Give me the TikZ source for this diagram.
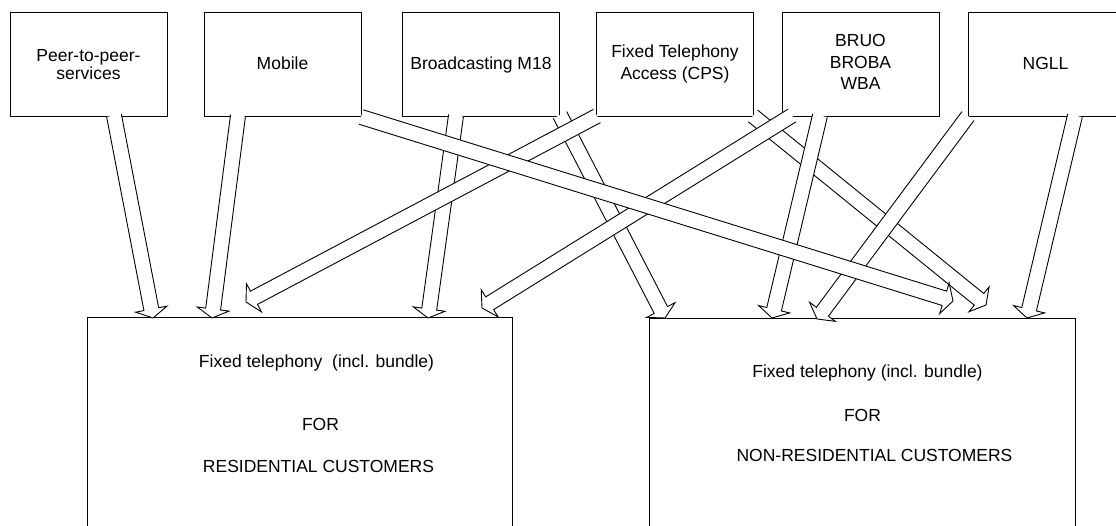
\documentclass[tikz,border=0pt]{standalone}
\usepackage{fontspec}
\setmainfont{Liberation Sans}
\usetikzlibrary{calc}
\tikzset{
  topbox/.style={draw=black, line width=0.9pt, fill=white, minimum width=157pt, minimum height=104pt, inner sep=0pt, outer sep=0pt},
  lowbox/.style={draw=black, line width=0.9pt, fill=white, inner sep=0pt, outer sep=0pt},
  lbl/.style={font=\fontsize{17.5}{21}\selectfont, inner sep=0pt, anchor=base},
  barr/.style={draw=black, fill=white, line width=0.9pt, line join=miter},
}
\newcommand\blockarr[2]{%
  \coordinate (hb) at ($(#2)!9pt!(#1)$);
  \filldraw[barr] ($(#1)!7.5pt!90:(#2)$) -- ($(hb)!7.5pt!-90:(#1)$) -- ($(hb)!16pt!-90:(#1)$) -- (#2) -- ($(hb)!16pt!90:(#1)$) -- ($(hb)!7.5pt!90:(#1)$) -- ($(#1)!7.5pt!-90:(#2)$);
}
\begin{document}
\begin{tikzpicture}[x=1pt, y=-1pt]
\useasboundingbox (0,0) rectangle (1116,526);
\clip (0,0) rectangle (1116,526);
\fill[white] (0,0) rectangle (1116,526);

% top boxes
\node[topbox] (peer) at (88.5,64.5) {};
\node[topbox] (mob)  at (282.5,64.5) {};
\node[topbox] (brd)  at (481,64.5) {};
\node[topbox] (fix)  at (675,64.5) {};
\node[topbox] (bru)  at (860.5,64.5) {};
\node[topbox] (ngl)  at (1046.5,64.5) {};

% bottom boxes
\node[lowbox, minimum width=425pt, minimum height=243pt] (res) at (299.5,439) {};
\node[lowbox, minimum width=426pt, minimum height=243pt] (nres) at (862,439.5) {};

% labels of top boxes
\node[lbl] (peer-a) at (88.5,62) {Peer-to-peer-};
\node[lbl] (peer-b) at (88.5,80) {services};
\node[lbl] (mob-a) at (282.5,70) {Mobile};
\node[lbl] (brd-a) at (481,69.5) {Broadcasting M18};
\node[lbl] (fix-a) at (675,57.5) {Fixed Telephony};
\node[lbl] (fix-b) at (675,80) {Access (CPS)};
\node[lbl] (bru-a) at (860.5,47) {BRUO};
\node[lbl] (bru-b) at (860.5,69) {BROBA};
\node[lbl] (bru-c) at (860.5,90) {WBA};
\node[lbl] (ngl-a) at (1045.5,70) {NGLL};

% labels of bottom boxes
\node[lbl] (res-a) at (316.5,367.5) {Fixed telephony\ \ (incl. bundle)};
\node[lbl] (res-b) at (320.5,430.5) {FOR};
\node[lbl] (res-c) at (318.5,472.5) {RESIDENTIAL CUSTOMERS};
\node[lbl] (nres-a) at (867.5,377.5) {Fixed telephony (incl. bundle)};
\node[lbl] (nres-b) at (862.5,421) {FOR};
\node[lbl] (nres-c) at (874.5,461) {NON-RESIDENTIAL CUSTOMERS};

% arrow end points
\coordinate (s-peer) at (114,115.5);  \coordinate (t-peer) at (153,318);
\coordinate (s-mobL) at (238,115.5);  \coordinate (t-mobL) at (212,318);
\coordinate (s-mobR) at (361,117);    \coordinate (t-mobR) at (953,301);
\coordinate (s-brdL) at (456,115.5);  \coordinate (t-brdL) at (428,318);
\coordinate (s-brdR) at (560,115);    \coordinate (t-brdR) at (665,318);
\coordinate (s-fixL) at (597,116);    \coordinate (t-fixL) at (246,302);
\coordinate (s-fixR) at (753,116);    \coordinate (t-fixR) at (986,305);
\coordinate (s-bruL) at (792,115.5);  \coordinate (t-bruL) at (482,308);
\coordinate (s-bruR) at (820,115.5);  \coordinate (t-bruR) at (772,318);
\coordinate (s-ngL)  at (968,116);    \coordinate (t-ngL)  at (817,319);
\coordinate (s-ngR)  at (1075,115.5); \coordinate (t-ngR)  at (1027,318);

% arrows, bottom to top
\blockarr{s-fixR}{t-fixR}
\blockarr{s-brdL}{t-brdL}
\blockarr{s-brdR}{t-brdR}
\blockarr{s-fixL}{t-fixL}
\blockarr{s-bruL}{t-bruL}
\blockarr{s-bruR}{t-bruR}
\blockarr{s-ngL}{t-ngL}
\blockarr{s-ngR}{t-ngR}
\blockarr{s-peer}{t-peer}
\blockarr{s-mobL}{t-mobL}
\blockarr{s-mobR}{t-mobR}
\end{tikzpicture}
\end{document}
